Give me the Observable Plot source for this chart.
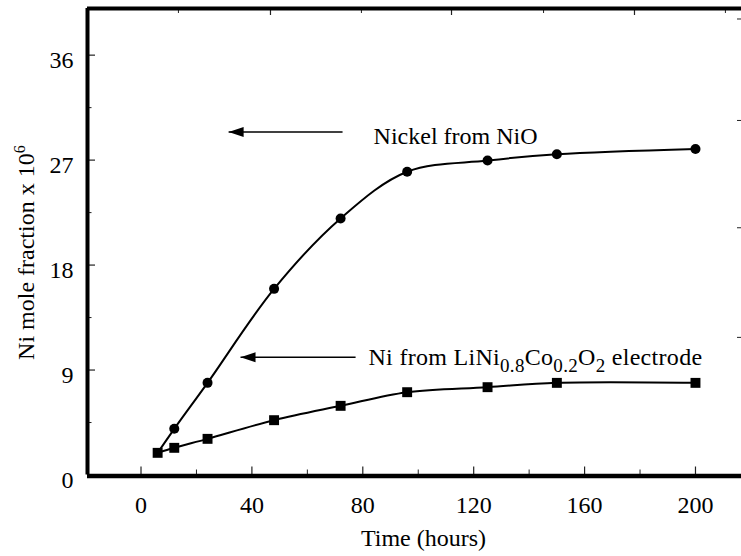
<!DOCTYPE html>
<html><head><meta charset="utf-8">
<script src="https://cdn.jsdelivr.net/npm/d3@7"></script>
<script src="https://cdn.jsdelivr.net/npm/@observablehq/plot@0.6"></script>
<style>html,body{margin:0;padding:0;background:#fff}</style>
</head><body><div id="chart"></div>
<script>
// ---- data ----
const hours = [6, 12, 24, 48, 72, 96, 125, 150, 200];
const nioValues = [1.9, 3.96, 7.9, 15.96, 22.0, 26.0, 26.96, 27.5, 27.96];
const electrodeValues = [1.9, 2.33, 3.1, 4.7, 5.93, 7.1, 7.53, 7.9, 7.9];
const xTickValues = [0, 40, 80, 120, 160, 200];
const xMinorTicks = [20, 60, 100, 140, 180];
const yTickValues = [0, 9, 18, 27, 36];
const yMinorTicks = [4.5, 13.5, 22.5, 31.5];
const topMajorTicks = [46.7, 112, 178];
const topMinorTicks = [13.5, 79.5, 145.2, 210.8];
const rightTicks = [11.8, 21.2, 30.4, 39.1];
const annotationText = ["Nickel from NiO", "Ni from LiNi0.8Co0.2O2 electrode"];
const annotationX = [83.9, 82.05];
const annotationY = [29.05, 10.05];
const arrowTipX = [31.6, 35.9];
const arrowTailX = [72.7, 77.4];
const arrowY = [29.4, 10.1];
const xLabel = "Time (hours)";
const xLabelPos = [101.9];
const yLabel = "Ni mole fraction x 106";
const yLabelPos = [19.07];
const xDomain = [-19.3, 216.6];
const yDomain = [0, 40];

// ---- build tables ----
const nio = hours.map((h, i) => ({h, v: nioValues[i]}));
const electrode = hours.map((h, i) => ({h, v: electrodeValues[i]}));
const annotations = annotationText.map((t, i) => ({t, x: annotationX[i], y: annotationY[i]}));
const arrows = arrowY.map((y, i) => ({x1: arrowTipX[i], x2: arrowTailX[i], y}));

const W = 741, H = 556, mL = 87, mR = 0, mT = 8, mB = 81.5;
const pw = W - mL - mR, ph = H - mT - mB;
const font = "Liberation Serif, Times New Roman, serif";
const arrowHead = {draw(ctx) { ctx.moveTo(0, 0); ctx.lineTo(15, -5); ctx.lineTo(15, 5); ctx.closePath(); }};

const chart = Plot.plot({
  width: W, height: H,
  marginLeft: mL, marginRight: mR, marginTop: mT, marginBottom: mB,
  x: {domain: xDomain, axis: null},
  y: {domain: yDomain, axis: null},
  style: {background: "white", fontFamily: font},
  marks: [
    // inward ticks
    Plot.tickY(yTickValues.slice(1), {y: d => d, insetRight: pw - 8, stroke: "#222", strokeWidth: 1.2}),
    Plot.tickY(yMinorTicks, {y: d => d, insetRight: pw - 4.5, stroke: "#222", strokeWidth: 1}),
    Plot.tickX(xTickValues, {x: d => d, insetTop: ph - 8, stroke: "#222", strokeWidth: 1.2}),
    Plot.tickX(xMinorTicks, {x: d => d, insetTop: ph - 5, stroke: "#222", strokeWidth: 1}),
    Plot.tickX(topMajorTicks, {x: d => d, insetBottom: ph - 7, stroke: "#222", strokeWidth: 1.2}),
    Plot.tickX(topMinorTicks, {x: d => d, insetBottom: ph - 5, stroke: "#222", strokeWidth: 1}),
    Plot.tickY(rightTicks, {y: d => d, insetLeft: pw - 4, stroke: "#222", strokeWidth: 1}),
    // frame lines
    Plot.ruleX([xDomain[0]], {strokeWidth: 4, stroke: "black"}),
    Plot.ruleY([yDomain[1]], {strokeWidth: 4, stroke: "black"}),
    Plot.ruleY([0], {strokeWidth: 4.5, stroke: "black", dy: 1}),
    // tick labels
    Plot.text(xTickValues, {x: d => d, y: 0, dy: 30, text: d => String(d), fontSize: 24, fontFamily: font, fill: "black"}),
    Plot.text(yTickValues, {x: xDomain[0], y: d => d, dx: -14, dy: 5, text: d => String(d), textAnchor: "end", fontSize: 24, fontFamily: font, fill: "black"}),
    // axis titles
    Plot.text(xLabelPos, {x: d => d, y: 0, dy: 63, text: () => xLabel, fontSize: 24, fontFamily: font, fill: "black"}),
    Plot.text(yLabelPos, {x: xDomain[0], y: d => d, dx: -61.5, rotate: -90, text: () => yLabel, fontSize: 24, fontFamily: font, fill: "black"}),
    // data
    Plot.line(nio, {x: "h", y: "v", curve: "catmull-rom", strokeWidth: 2, stroke: "black"}),
    Plot.line(electrode, {x: "h", y: "v", curve: "catmull-rom", strokeWidth: 2, stroke: "black"}),
    Plot.dot(nio.slice(1), {x: "h", y: "v", r: 5, fill: "black", stroke: "none"}),
    Plot.dot(electrode, {x: "h", y: "v", symbol: "square", r: 5.6, fill: "black", stroke: "none"}),
    // annotations
    Plot.link(arrows, {x1: "x1", x2: "x2", y1: "y", y2: "y", strokeWidth: 1.5, stroke: "black"}),
    Plot.dot(arrows, {x: "x1", y: "y", symbol: arrowHead, fill: "black", stroke: "none"}),
    Plot.text(annotations, {x: "x", y: "y", text: "t", textAnchor: "start", fontSize: 24, fontFamily: font, fill: "black"})
  ]
});

// sub/superscripts
chart.querySelectorAll("text").forEach(el => {
  const s = el.textContent;
  let parts = null;
  if (s === annotationText[1]) {
    parts = [["Ni from LiNi", 0], ["0.8", 1], ["Co", 0], ["0.2", 1], ["O", 0], ["2", 1], [" electrode", 0]];
    el.setAttribute("letter-spacing", "0.3");
  } else if (s === yLabel) {
    parts = [["Ni mole fraction x 10", 0], ["6", -1]];
  }
  if (!parts) return;
  while (el.firstChild) el.removeChild(el.firstChild);
  let cur = 0;
  parts.forEach(([t, k]) => {
    const ts = document.createElementNS("http://www.w3.org/2000/svg", "tspan");
    const target = k === 1 ? 7 : k === -1 ? -9 : 0;
    const d = target - cur;
    if (d !== 0) ts.setAttribute("dy", d);
    cur = target;
    if (k !== 0) ts.setAttribute("font-size", k === 1 ? 19 : 16);
    ts.textContent = t;
    el.appendChild(ts);
  });
});

document.getElementById("chart").appendChild(chart);
</script>
</body></html>
